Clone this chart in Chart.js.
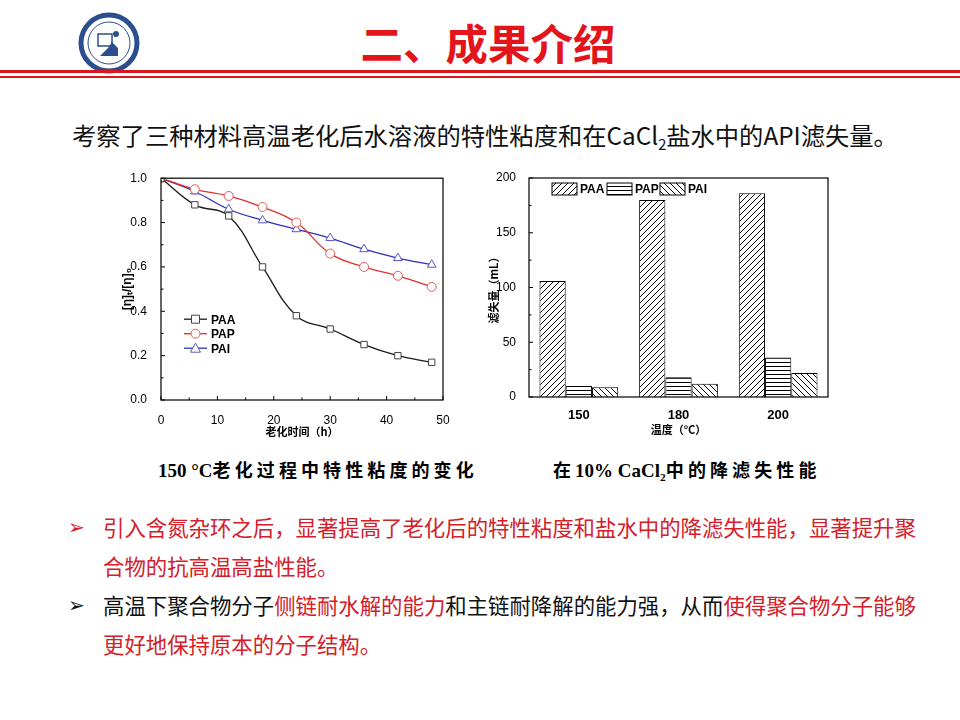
<!DOCTYPE html>
<html>
<head>
<meta charset="utf-8">
<script src="https://cdn.jsdelivr.net/npm/chart.js@4.4.0/dist/chart.umd.min.js"></script>
<style>
  body { margin: 0; width: 960px; height: 720px; background: #fff; position: relative; overflow: hidden;
         font-family: "Noto Sans CJK SC", "Open Sans", sans-serif; }
  .abs { position: absolute; white-space: nowrap; }
  .title { left: 8px; width: 960px; top: 15px; text-align: center; font-size: 42.5px; line-height: 54px;
           font-weight: bold; color: #e3141b; }
  .sub { left: 72px; top: 118px; font-size: 24.3px; line-height: 34px; color: #111; }
  .cap { top: 458px; font-family: "Liberation Serif", "Noto Sans CJK SC", serif; font-weight: bold;
         font-size: 19px; line-height: 26px; color: #000; }
  .cap .cj { font-size: 18px; letter-spacing: 4.1px; }
  .bul { left: 68px; font-size: 20px; line-height: 38px; }
  .txt { left: 103px; font-size: 21.4px; line-height: 38.5px; color: #111; }
  .red { color: #d3202a; }
  sub { font-size: 0.6em; vertical-align: -0.35em; }
</style>
</head>
<body>

<svg class="abs" style="left:78px;top:12px" width="62" height="62" viewBox="0 0 62 62">
  <circle cx="31" cy="31" r="28" fill="#fff" stroke="#2b4f8e" stroke-width="5"/>
  <circle cx="31" cy="31" r="21" fill="#fff" stroke="#2b4f8e" stroke-width="1"/>
  <rect x="20" y="22" width="14" height="12" fill="none" stroke="#2b4f8e" stroke-width="1.5"/>
  <path d="M22 44 L40 44 L40 36 L34 30 L30 36 Z" fill="#2b4f8e"/>
  <circle cx="38" cy="22" r="3" fill="#2b4f8e"/>
</svg>

<div class="abs title">二、成果介绍</div>
<div class="abs" style="left:0;top:70px;width:960px;height:3px;background:#d7191f"></div>
<div class="abs" style="left:0;top:76px;width:960px;height:2px;background:#d7191f"></div>

<div class="abs sub">考察了三种材料高温老化后水溶液的特性粘度和在CaCl<sub>2</sub>盐水中的API滤失量。</div>

<div class="abs" style="left:116px;top:165px;width:339px;height:277px"><canvas id="viscChart" width="339" height="277"></canvas></div>
<div class="abs" style="left:484px;top:165px;width:356px;height:275px"><canvas id="lossChart" width="356" height="275"></canvas></div>

<div class="abs cap" style="left:158px">150 °C<span class="cj">老化过程中特性粘度的变化</span></div>
<div class="abs cap" style="left:553px"><span class="cj">在</span>10% CaCl<sub>2</sub><span class="cj">中的降滤失性能</span></div>

<div class="abs bul red" style="top:507px">➢</div>
<div class="abs txt red" style="top:508px">引入含氮杂环之后，显著提高了老化后的特性粘度和盐水中的降滤失性能，显著提升聚<br>合物的抗高温高盐性能。</div>
<div class="abs bul" style="top:585px;color:#111">➢</div>
<div class="abs txt" style="top:586px">高温下聚合物分子<span class="red">侧链耐水解的能力</span>和主链耐降解的能力强，从而<span class="red">使得聚合物分子能够</span><br><span class="red">更好地保持原本的分子结构。</span></div>

<script>
// aging time (h) and intrinsic viscosity ratio [η]t/[η]0
var hours = [0, 6, 12, 18, 24, 30, 36, 42, 48];
var paaVisc = [1.0, 0.88, 0.83, 0.60, 0.38, 0.32, 0.25, 0.20, 0.17];
var papVisc = [1.0, 0.95, 0.92, 0.87, 0.80, 0.66, 0.60, 0.56, 0.51];
var paiVisc = [1.0, 0.94, 0.86, 0.81, 0.77, 0.73, 0.68, 0.64, 0.61];

// API filtration loss (mL) in 10% CaCl2
var temps = ['150', '180', '200'];
var paaLoss = [106, 180, 186];
var papLoss = [10, 18, 36];
var paiLoss = [9, 12, 22];

Chart.defaults.font.family = '"Liberation Sans", Arial, sans-serif';
Chart.defaults.color = '#000';
Chart.defaults.animation = false;

function pts(ys) {
  return hours.map(function (h, i) { return { x: h, y: ys[i] }; });
}

// box round the plot area with small inward ticks
var framePlugin = {
  id: 'frame',
  afterDraw: function (chart) {
    var a = chart.chartArea, c = chart.ctx;
    c.save();
    c.strokeStyle = '#000';
    c.lineWidth = 1.2;
    c.strokeRect(a.left, a.top, a.right - a.left, a.bottom - a.top);
    c.lineWidth = 1;
    c.beginPath();
    var ys = chart.scales.y;
    ys.ticks.forEach(function (t, i) {
      var p = ys.getPixelForValue(t.value);
      c.moveTo(a.left, p); c.lineTo(a.left + 4, p);
      if (i < ys.ticks.length - 1) {
        var m = ys.getPixelForValue((t.value + ys.ticks[i + 1].value) / 2);
        c.moveTo(a.left, m); c.lineTo(a.left + 2.5, m);
      }
    });
    var xs = chart.scales.x;
    if (xs.type === 'linear') {
      xs.ticks.forEach(function (t, i) {
        var p = xs.getPixelForValue(t.value);
        c.moveTo(p, a.bottom); c.lineTo(p, a.bottom - 4);
        if (i < xs.ticks.length - 1) {
          var m = xs.getPixelForValue((t.value + xs.ticks[i + 1].value) / 2);
          c.moveTo(m, a.bottom); c.lineTo(m, a.bottom - 2.5);
        }
      });
    }
    c.stroke();
    c.restore();
  }
};

// legend drawn inside the line chart
var lineLegend = {
  id: 'lineLegend',
  afterDraw: function (chart) {
    var a = chart.chartArea, c = chart.ctx;
    c.save();
    chart.data.datasets.forEach(function (ds, i) {
      var y = a.top + 141 + i * 14.5;
      var x0 = a.left + 23, x1 = a.left + 46, mx = (x0 + x1) / 2;
      c.strokeStyle = ds.borderColor;
      c.lineWidth = 1.3;
      c.beginPath(); c.moveTo(x0, y); c.lineTo(x1, y); c.stroke();
      c.fillStyle = '#fff';
      c.strokeStyle = ds.pointBorderColor;
      c.lineWidth = 1;
      c.beginPath();
      if (ds.pointStyle === 'rect') { c.rect(mx - 4, y - 4, 8, 8); }
      else if (ds.pointStyle === 'circle') { c.arc(mx, y, 4.5, 0, Math.PI * 2); }
      else { c.moveTo(mx, y - 5); c.lineTo(mx + 5, y + 4); c.lineTo(mx - 5, y + 4); c.closePath(); }
      c.fill(); c.stroke();
      c.fillStyle = '#000';
      c.font = 'bold 12px "Liberation Sans", Arial, sans-serif';
      c.textBaseline = 'middle';
      c.fillText(ds.label, x1 + 4, y + 1);
    });
    c.restore();
  }
};

new Chart(document.getElementById('viscChart'), {
  type: 'line',
  data: {
    datasets: [
      { label: 'PAA', data: pts(paaVisc), borderColor: '#1a1a1a', borderWidth: 1.3,
        pointStyle: 'rect', pointRadius: 4.5, pointBackgroundColor: '#fff', pointBorderColor: '#444',
        pointBorderWidth: 1, tension: 0.4 },
      { label: 'PAP', data: pts(papVisc), borderColor: '#e0302c', borderWidth: 1.3,
        pointStyle: 'circle', pointRadius: 4.5, pointBackgroundColor: '#fff', pointBorderColor: '#e25a5a',
        pointBorderWidth: 1, tension: 0.4 },
      { label: 'PAI', data: pts(paiVisc), borderColor: '#2d30b8', borderWidth: 1.3,
        pointStyle: 'triangle', pointRadius: 5, pointBackgroundColor: '#fff', pointBorderColor: '#5558c8',
        pointBorderWidth: 1, tension: 0.4 }
    ]
  },
  options: {
    responsive: false,
    layout: { padding: { top: 13, right: 12, left: 0, bottom: 0 } },
    plugins: { legend: { display: false }, tooltip: { enabled: false } },
    scales: {
      x: {
        type: 'linear', min: 0, max: 50,
        grid: { display: false }, border: { display: false },
        ticks: { stepSize: 10, font: { size: 12 }, padding: 5 },
        title: { display: true, text: '老化时间（h）', font: { size: 11, weight: 'bold', family: '"Noto Sans CJK SC", sans-serif' }, padding: { top: 2, bottom: 4 } },
        afterFit: function (s) { s.height = 42; }
      },
      y: {
        min: 0, max: 1.0,
        grid: { display: false }, border: { display: false },
        ticks: { stepSize: 0.2, font: { size: 12 }, padding: 6, callback: function (v) { return v.toFixed(1); } },
        title: { display: true, text: '[η]ₜ/[η]₀', font: { size: 12, weight: 'bold' }, padding: { top: 4, bottom: 4 } },
        afterFit: function (s) { s.width = 45; }
      }
    }
  },
  plugins: [framePlugin, lineLegend]
});

// hatch fills for the bars
var lossCtx = document.getElementById('lossChart').getContext('2d');
function hatch(kind) {
  var s = kind === '-' ? 4 : 6;
  var p = document.createElement('canvas');
  p.width = s; p.height = s;
  var g = p.getContext('2d');
  g.fillStyle = '#fff'; g.fillRect(0, 0, s, s);
  g.strokeStyle = '#000'; g.lineWidth = 1;
  g.beginPath();
  if (kind === '-') {
    g.moveTo(0, 1.5); g.lineTo(s, 1.5);
  } else if (kind === '/') {
    g.moveTo(0, s); g.lineTo(s, 0);
    g.moveTo(-1, 1); g.lineTo(1, -1);
    g.moveTo(s - 1, s + 1); g.lineTo(s + 1, s - 1);
  } else {
    g.moveTo(0, 0); g.lineTo(s, s);
    g.moveTo(s - 1, -1); g.lineTo(s + 1, 1);
    g.moveTo(-1, s - 1); g.lineTo(1, s + 1);
  }
  g.stroke();
  return lossCtx.createPattern(p, 'repeat');
}

var barLegend = {
  id: 'barLegend',
  afterDraw: function (chart) {
    var a = chart.chartArea, c = chart.ctx;
    var offs = [23, 78, 131];
    c.save();
    chart.data.datasets.forEach(function (ds, i) {
      var x = a.left + offs[i], y = a.top + 5;
      c.fillStyle = ds.backgroundColor;
      c.fillRect(x, y, 25, 12);
      c.strokeStyle = '#000'; c.lineWidth = 1;
      c.strokeRect(x, y, 25, 12);
      c.fillStyle = '#000';
      c.font = 'bold 12px "Liberation Sans", Arial, sans-serif';
      c.textBaseline = 'middle';
      c.fillText(ds.label, x + 28, y + 6.5);
    });
    c.restore();
  }
};

new Chart(lossCtx, {
  type: 'bar',
  data: {
    labels: temps,
    datasets: [
      { label: 'PAA', data: paaLoss, backgroundColor: hatch('/'), borderColor: '#000', borderWidth: 1 },
      { label: 'PAP', data: papLoss, backgroundColor: hatch('-'), borderColor: '#000', borderWidth: 1 },
      { label: 'PAI', data: paiLoss, backgroundColor: hatch('\\'), borderColor: '#000', borderWidth: 1 }
    ]
  },
  options: {
    responsive: false,
    layout: { padding: { top: 13, right: 12, left: 0, bottom: 0 } },
    datasets: { bar: { categoryPercentage: 0.79, barPercentage: 1.0 } },
    plugins: { legend: { display: false }, tooltip: { enabled: false } },
    scales: {
      x: {
        grid: { display: false }, border: { display: false },
        ticks: { font: { size: 13, weight: 'bold' }, padding: 3 },
        title: { display: true, text: '温度（°C）', font: { size: 11, weight: 'bold', family: '"Noto Sans CJK SC", sans-serif' }, padding: { top: 0, bottom: 4 } },
        afterFit: function (s) { s.height = 43; }
      },
      y: {
        min: 0, max: 200,
        grid: { display: false }, border: { display: false },
        ticks: { stepSize: 50, font: { size: 12 }, padding: 5 },
        title: { display: true, text: '滤失量（mL）', font: { size: 11, weight: 'bold', family: '"Noto Sans CJK SC", sans-serif' }, padding: { top: 3, bottom: 4 } },
        afterFit: function (s) { s.width = 45; }
      }
    }
  },
  plugins: [framePlugin, barLegend]
});
</script>
</body>
</html>
